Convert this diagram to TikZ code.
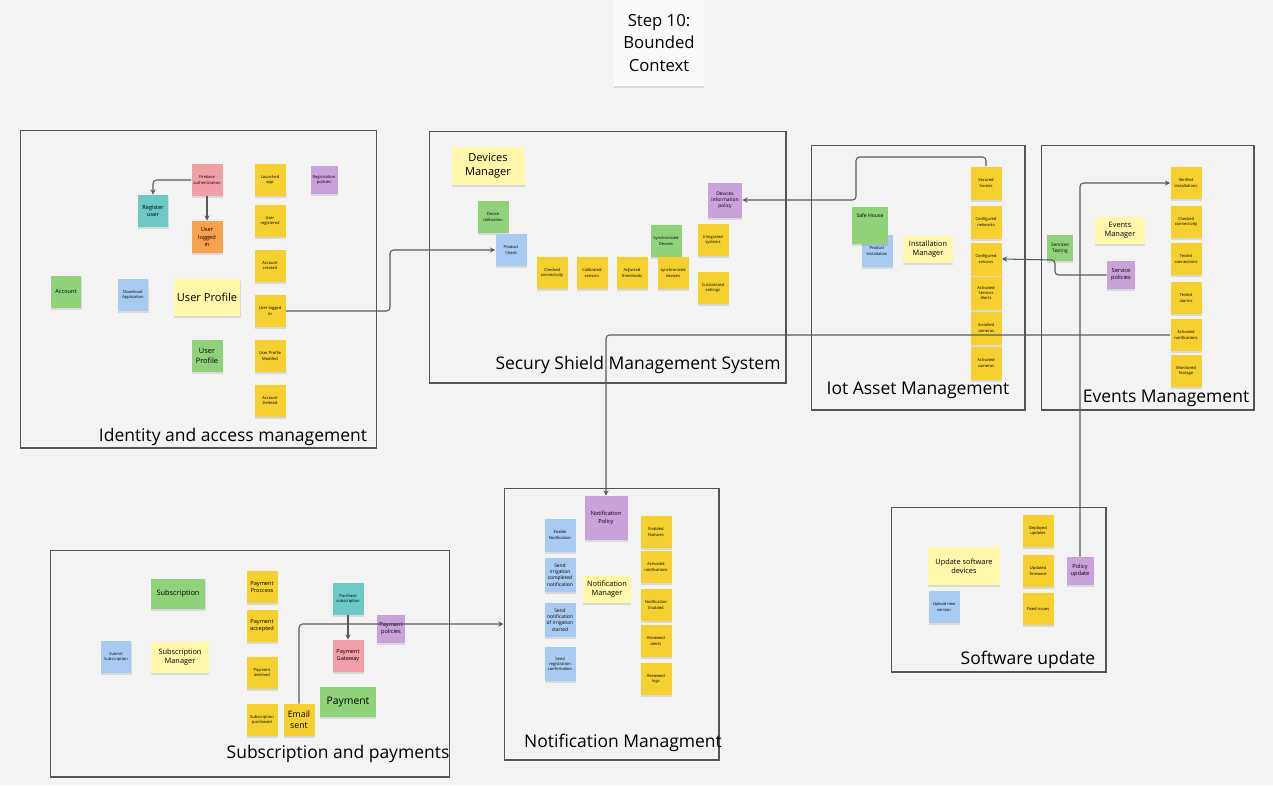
\documentclass[tikz,border=0pt]{standalone}
\usepackage{fontspec}
\setmainfont{Open Sans}
\usetikzlibrary{arrows.meta,shadows}

\definecolor{canvas}{HTML}{F3F3F3}
\definecolor{styel}{HTML}{F5D02F}
\definecolor{stlight}{HTML}{FFF7AA}
\definecolor{stgreen}{HTML}{8FD27A}
\definecolor{stblue}{HTML}{A7CBF3}
\definecolor{stpurple}{HTML}{C9A1DB}
\definecolor{stpink}{HTML}{F2A0A8}
\definecolor{stteal}{HTML}{6CC9C3}
\definecolor{storange}{HTML}{F9A04C}
\definecolor{framecol}{HTML}{555555}
\definecolor{linecol}{HTML}{5A5A5A}

\newcommand{\tinytext}{\fontsize{2.3}{2.9}\selectfont}
\newcommand{\smalltext}{\fontsize{3.2}{4.0}\selectfont}
\newcommand{\midtext}{\fontsize{4.2}{5.3}\selectfont}
\newcommand{\bigtext}{\fontsize{6.3}{8.0}\selectfont}
\newcommand{\frametext}{\fontsize{9.95}{12}\selectfont}

\tikzset{
  note/.style={inner sep=0pt, align=center, minimum width=0.62cm, minimum height=0.64cm,
    font=\tinytext, drop shadow={shadow xshift=0.2pt, shadow yshift=-1.3pt, opacity=0.22}},
  yel/.style={note, fill=styel},
  light/.style={note, fill=stlight},
  green/.style={note, fill=stgreen},
  blue/.style={note, fill=stblue},
  purple/.style={note, fill=stpurple},
  pink/.style={note, fill=stpink},
  teal/.style={note, fill=stteal},
  orange/.style={note, fill=storange},
  frame/.style={draw=framecol, line width=0.6pt, inner sep=0pt},
  framelabel/.style={font=\frametext, inner sep=0pt},
  link/.style={draw=linecol, line width=0.6pt, rounded corners=2pt},
  arr/.style={link, -{Stealth[length=3pt,width=3pt]}}
}

\begin{document}
\begin{tikzpicture}[x=0.02cm, y=-0.02cm]
\useasboundingbox (0,0) rectangle (1273,785);
\fill[canvas] (0,0) rectangle (1273,785);

% title
\node[note, fill=white!98!black, minimum width=1.8cm, minimum height=1.72cm, font=\fontsize{9.5}{13}\selectfont] (title) at (659,43) {Step 10:\\Bounded\\Context};

% bounded contexts
\node[frame, minimum width=7.14cm, minimum height=6.36cm] (identbox) at (198.5,289) {};
\node[frame, minimum width=7.14cm, minimum height=5.04cm] (securbox) at (607.5,257) {};
\node[frame, minimum width=4.28cm, minimum height=5.30cm] (iotbox) at (918,277.5) {};
\node[frame, minimum width=4.26cm, minimum height=5.30cm] (eventbox) at (1147.5,277.5) {};
\node[frame, minimum width=4.30cm, minimum height=3.30cm] (softbox) at (998.5,589.5) {};
\node[frame, minimum width=4.30cm, minimum height=5.44cm] (notifbox) at (611.5,624) {};
\node[frame, minimum width=8.00cm, minimum height=4.54cm] (subbox) at (250,663.5) {};

\node[framelabel] (identlbl) at (233,437) {Identity and access management};
\node[framelabel] (securlbl) at (638,365) {Secury Shield Management System};
\node[framelabel] (iotlbl) at (918,390) {Iot Asset Management};
\node[framelabel] (eventlbl) at (1166,398) {Events Management};
\node[framelabel] (softlbl) at (1028,660) {Software update};
\node[framelabel] (notiflbl) at (623,743) {Notification Managment};
\node[framelabel] (sublbl) at (338,754) {Subscription and payments};

% identity and access management
\node[pink] (firebase) at (207,180) {Firebase\\authentication};
\node[teal, font=\smalltext] (reguser) at (153,211) {Register\\user};
\node[orange, font=\smalltext] (loggedin) at (207,237) {User\\logged\\in};
\node[yel] (launched) at (270,180) {Launched\\app};
\node[purple, minimum width=0.54cm, minimum height=0.56cm] (regpol) at (324,180) {Registration\\policies};
\node[yel] (registered) at (270,221) {User\\registered};
\node[yel] (acccreated) at (270,266) {Account\\created};
\node[yel] (ulogged) at (270,311) {User logged\\in};
\node[yel] (modified) at (270,356) {User Profile\\Modifed};
\node[yel] (deleted) at (270,401) {Account\\Deleted};
\node[green, font=\smalltext] (account) at (66,292) {Account};
\node[blue] (download) at (133,295) {Download\\Application};
\node[light, minimum width=1.34cm, minimum height=0.74cm, font=\bigtext] (profile) at (207,297) {User Profile};
\node[green, font=\midtext] (profilegr) at (207,356) {User\\Profile};

% security shield
\node[light, minimum width=1.46cm, minimum height=0.76cm, font=\bigtext] (devman) at (488,166) {Devices\\Manager};
\node[green] (calib) at (493,217) {Device\\calibration};
\node[blue] (prodcheck) at (511,250) {Product\\Check};
\node[yel] (checked) at (552,273) {Checked\\connectivity};
\node[yel] (calsens) at (592,273) {Calibrated\\sensors};
\node[yel] (adjusted) at (632,273) {Adjusted\\thresholds};
\node[green] (syncgr) at (666,241) {Synchronized\\Devices};
\node[yel] (syncyel) at (673,273) {synchronized\\devices};
\node[yel] (integrated) at (713,240) {Integrated\\systems};
\node[yel] (customized) at (713,288) {Customized\\settings};
\node[purple, minimum width=0.68cm, minimum height=0.7cm, font=\fontsize{2.8}{3.5}\selectfont] (devpol) at (725,200) {Devices\\information\\policy};

% iot assets
\node[blue] (prodinst) at (877,251) {Product\\Installation};
\node[green, minimum width=0.72cm, minimum height=0.74cm] (safehouse) at (870,225) {};
\node[font=\fontsize{2.9}{3.5}\selectfont, inner sep=0pt] (safehousetxt) at (870,216) {Safe House};
\node[light, minimum width=1.0cm, minimum height=0.54cm, font=\midtext] (instman) at (928,249) {Installation\\Manager};
\node[yel, minimum height=0.66cm] (secured) at (986,183) {Secured\\homes};
\node[yel, minimum height=0.66cm] (cfgnet) at (986,222) {Configured\\networks};
\node[yel, minimum height=0.66cm] (cfgsens) at (986,259) {Configured\\sensors};
\node[yel, minimum height=0.66cm] (actalerts) at (986,293) {Activated\\Sensors\\Alerts};
\node[yel, minimum height=0.66cm] (instcam) at (986,328) {Installed\\cameras};
\node[yel, minimum height=0.66cm] (actcam) at (986,363) {Activated\\cameras};

% events
\node[yel] (verified) at (1186,183) {Verified\\installations};
\node[yel] (chkconn) at (1186,222) {Checked\\connectivity};
\node[yel] (testconn) at (1186,259) {Tested\\connections};
\node[yel] (testalarm) at (1186,298) {Tested\\alarms};
\node[yel] (actnotif) at (1186,335) {Activated\\notifications};
\node[yel] (monitored) at (1186,371) {Monitored\\footage};
\node[light, minimum width=1.0cm, minimum height=0.54cm, font=\midtext] (evman) at (1120,230) {Events\\Manager};
\node[green, minimum width=0.52cm, minimum height=0.52cm, font=\fontsize{2.7}{3.4}\selectfont] (servtest) at (1060,248) {Services\\Testing};
\node[purple, minimum width=0.56cm, minimum height=0.56cm, font=\smalltext] (servpol) at (1121,275) {Service\\policies};

% software update
\node[yel] (deployed) at (1038,531) {Deployed\\updates};
\node[yel] (firmware) at (1038,571) {Updated\\firmware};
\node[yel] (fixed) at (1038,609) {Fixed issues};
\node[purple, minimum width=0.54cm, minimum height=0.56cm, font=\smalltext] (polupd) at (1080,571) {Policy\\update};
\node[light, minimum width=1.44cm, minimum height=0.76cm, font=\midtext] (updsoft) at (964,566) {Update software\\devices};
\node[blue] (upload) at (944,607) {Upload new\\version};

% notification
\node[purple, minimum width=0.86cm, minimum height=0.88cm, font=\smalltext] (notpol) at (606,518) {Notification\\Policy};
\node[blue, minimum height=0.66cm] (enable) at (560,535) {Enable\\Notification};
\node[blue, minimum height=0.68cm, font=\fontsize{2.8}{3.5}\selectfont] (sendcompl) at (560,575) {Send\\irrigation\\completed\\notification};
\node[blue, minimum height=0.68cm, font=\fontsize{2.8}{3.5}\selectfont] (sendstart) at (560,620) {Send\\notification\\of irrigation\\started};
\node[blue, minimum height=0.68cm] (sendreg) at (560,664) {Send\\registration\\confirmation};
\node[light, minimum width=0.96cm, minimum height=0.54cm, font=\midtext] (notman) at (607,589) {Notification\\Manager};
\node[yel] (enfeat) at (656,532) {Enabled\\features};
\node[yel] (actnot2) at (656,567) {Activated\\notifications};
\node[yel] (notenab) at (656,605) {Notification\\Enabled};
\node[yel] (revalerts) at (656,641) {Reviewed\\alerts};
\node[yel] (revlogs) at (656,679) {Reviewed\\logs};

% subscription and payments
\node[green, minimum width=1.1cm, minimum height=0.6cm, font=\midtext] (subgr) at (178,594) {Subscription};
\node[blue] (submit) at (116,657) {Submit\\Subscription};
\node[light, minimum width=1.16cm, minimum height=0.62cm, font=\midtext] (subman) at (180,657) {Subscription\\Manager};
\node[yel, font=\smalltext] (payproc) at (262,587) {Payment\\Proccess};
\node[yel, font=\smalltext] (payacc) at (262,626) {Payment\\accepted};
\node[yel] (paydecl) at (262,673) {Payment\\declined};
\node[yel] (subpurch) at (262,720) {Subscription\\purchased};
\node[yel, font=\fontsize{5}{6.3}\selectfont] (email) at (299,720) {Email\\sent};
\node[teal] (purch) at (348,599) {Purchase\\subscription};
\node[pink, font=\smalltext] (gateway) at (348,656) {Payment\\Gateway};
\node[green, minimum width=1.12cm, minimum height=0.6cm, font=\fontsize{5.9}{7}\selectfont] (payment) at (348,702) {Payment};
\node[purple, minimum width=0.56cm, minimum height=0.56cm, font=\smalltext] (paypol) at (391,629) {Payment\\policies};

% connectors
\draw[arr] (firebase.west) -| (reguser.north);
\draw[arr] (firebase.south) -- (loggedin.north);
\draw[arr] (ulogged.east) -| (390,280) |- (prodcheck.west);
\draw[arr] (secured.north) |- (856,157) |- (devpol.east);
\draw[arr] (servpol.west) -| (1055,260) -- (cfgsens.east);
\draw[arr] (polupd.north) |- (verified.west);
\draw[arr] (actnotif.west) -| (notpol.north);
\draw[arr] (purch.south) -- (gateway.north);
\draw[arr] (email.north) |- (notifbox.west);
\end{tikzpicture}
\end{document}
